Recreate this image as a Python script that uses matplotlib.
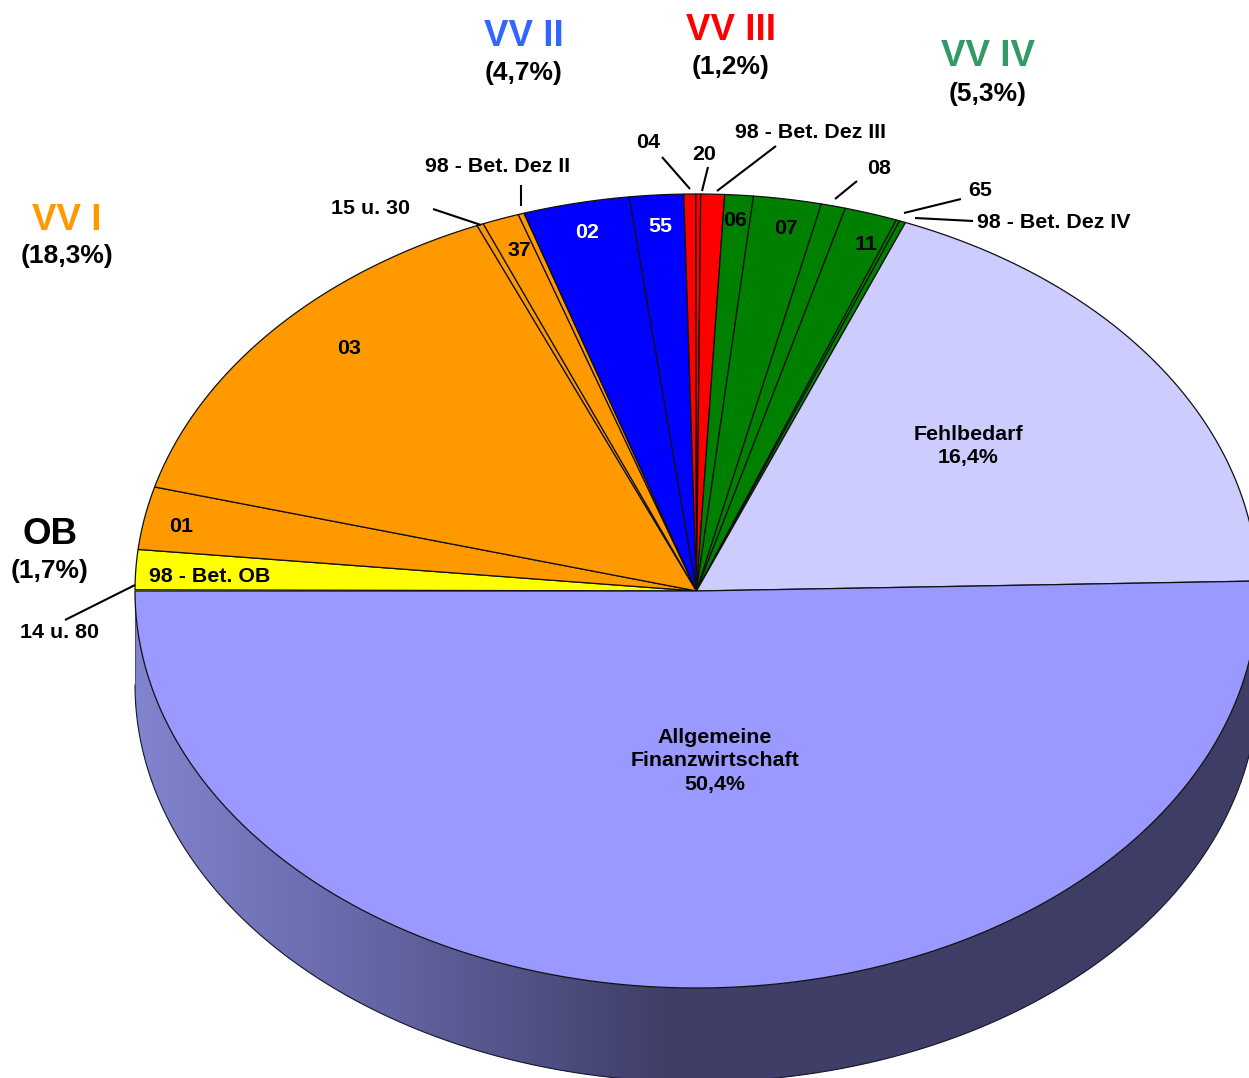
import numpy as np
import matplotlib
matplotlib.use("Agg")
import matplotlib.pyplot as plt
from matplotlib.patches import Polygon
from matplotlib.colors import LinearSegmentedColormap

plt.rcParams['font.family'] = ['Liberation Sans', 'DejaVu Sans']

# Slices clockwise from the left edge of the pie (share of the drawn pie, %)
slice_names = ["14 u. 80", "98 - Bet. OB", "01", "03", "15 u. 30", "37", "98 - Bet. Dez II",
               "02", "55", "04", "20", "98 - Bet. Dez III", "06", "07", "08", "11", "65",
               "98 - Bet. Dez IV", "Fehlbedarf", "Allgemeine Finanzwirtschaft"]
slice_values = [0.05, 1.62, 2.55, 14.39, 0.19, 1.06, 0.17,
                3.06, 1.55, 0.34, 0.14, 0.68, 0.82, 1.95, 0.70, 1.52, 0.10,
                0.18, 18.53, 50.40]
slice_groups = ["OB", "OB", "VV I", "VV I", "VV I", "VV I", "VV I",
                "VV II", "VV II", "VV III", "VV III", "VV III", "VV IV", "VV IV", "VV IV", "VV IV", "VV IV",
                "VV IV", "FB", "AF"]
group_colors = {"OB": "#FFFF00", "VV I": "#FF9900", "VV II": "#0000FF", "VV III": "#FF0000",
                "VV IV": "#008000", "FB": "#CCCCFF", "AF": "#9999FF"}

group_titles = ["VV I", "VV II", "VV III", "VV IV", "OB"]
group_shares = ["(18,3%)", "(4,7%)", "(1,2%)", "(5,3%)", "(1,7%)"]
title_colors = ["#FF9900", "#3366FF", "#FF0000", "#339966", "#000000"]
title_xy = [(67, 220), (524, 37), (731, 31), (988, 57), (50, 535)]
share_xy = [(67, 256), (524, 73), (731, 67), (988, 94), (50, 571)]

# Pie geometry in figure pixels
W, H = 1249, 1078
CX, CY, RX, RY, DEPTH = 696.5, 591, 561.5, 397, 94

fig = plt.figure(figsize=(W / 100, H / 100), dpi=100)
ax = fig.add_axes([0, 0, 1, 1])
ax.set_xlim(0, W)
ax.set_ylim(H, 0)
ax.axis("off")


def rim(a_deg, dy=0):
    a = np.radians(a_deg)
    return np.column_stack([CX + RX * np.cos(a), CY + dy - RY * np.sin(a)])


# Side wall with its left-to-right shading
outer = rim(np.linspace(180, 360, 400), DEPTH)
inner = rim(np.linspace(360, 180, 400), 0)
side = Polygon(np.vstack([inner, outer]), closed=True, fc="none", ec="none", zorder=1)
ax.add_patch(side)
shade = LinearSegmentedColormap.from_list("side", [(0, "#8184CE"), (0.15, "#6D6FB2"),
                                                   (0.33, "#54548A"), (0.47, "#3F3F68"), (1, "#3D3D66")])
img = ax.imshow(np.linspace(0, 1, 1200)[None, :], cmap=shade, extent=[CX - RX, W + 10, H + 10, 500],
                aspect="auto", zorder=1, interpolation="bilinear")
img.set_clip_path(side)
ax.set_xlim(0, W)
ax.set_ylim(H, 0)
ax.plot(outer[:, 0], outer[:, 1], color="#15152e", lw=0.8, zorder=2)
ax.plot([CX - RX, CX - RX], [CY, CY + DEPTH], color="#555577", lw=0.8, zorder=2)

# Top face from the values
edges = 180 - np.concatenate([[0], np.cumsum(slice_values)]) * 3.6
for i, grp in enumerate(slice_groups):
    arc = rim(np.linspace(edges[i], edges[i + 1], max(3, int(abs(edges[i] - edges[i + 1]) * 4))))
    ax.add_patch(Polygon(np.vstack([[CX, CY], arc]), closed=True, fc=group_colors[grp],
                         ec="#101010" if slice_names[i] != "14 u. 80" else "none",
                         lw=0.9, joinstyle="round", zorder=3))

# Group headings
for t, s, c, txy, sxy in zip(group_titles, group_shares, title_colors, title_xy, share_xy):
    ax.text(*txy, t, color=c, fontsize=26.5, fontweight="bold", ha="center", va="center", zorder=6)
    ax.text(*sxy, s, color="black", fontsize=19, fontweight="bold", ha="center", va="center", zorder=6)

# Slice labels
small_labels = [("04", 648, 142, "k"), ("20", 704, 154, "k"), ("98 - Bet. Dez III", 811, 132, "k"),
                ("08", 879, 169, "k"), ("65", 980, 191, "k"), ("98 - Bet. Dez IV", 1054, 223, "k"),
                ("98 - Bet. Dez II", 498, 166, "k"), ("15 u. 30", 371, 208, "k"), ("37", 519, 251, "k"),
                ("02", 587, 232, "w"), ("55", 660, 227, "w"), ("06", 735, 221, "k"), ("07", 786, 229, "k"),
                ("11", 866, 244, "k"), ("03", 349, 348, "k"), ("01", 181, 526, "k"),
                ("98 - Bet. OB", 210, 576, "k"), ("14 u. 80", 60, 633, "k"),
                ("Fehlbedarf\n16,4%", 968, 446, "k"), ("Allgemeine\nFinanzwirtschaft\n50,4%", 715, 761, "k")]
for txt, x, y, col in small_labels:
    ax.text(x, y, txt, color=col, fontsize=15.4, fontweight="bold", ha="center", va="center",
            linespacing=1.33, zorder=6)

# Leader lines
leaders = [((662, 157), (690, 189)), ((708, 167), (702, 191)), ((776, 146), (717, 191)),
           ((857, 181), (835, 199)), ((961, 199), (904, 213)), ((973, 221), (915, 218)),
           ((521, 185), (521, 206)), ((433, 209), (481, 225)), ((65, 620), (135, 585))]
for (x0, y0), (x1, y1) in leaders:
    ax.plot([x0, x1], [y0, y1], color="black", lw=1.5, zorder=5, solid_capstyle="butt")

fig.savefig("out.png", dpi=100, facecolor="white")
